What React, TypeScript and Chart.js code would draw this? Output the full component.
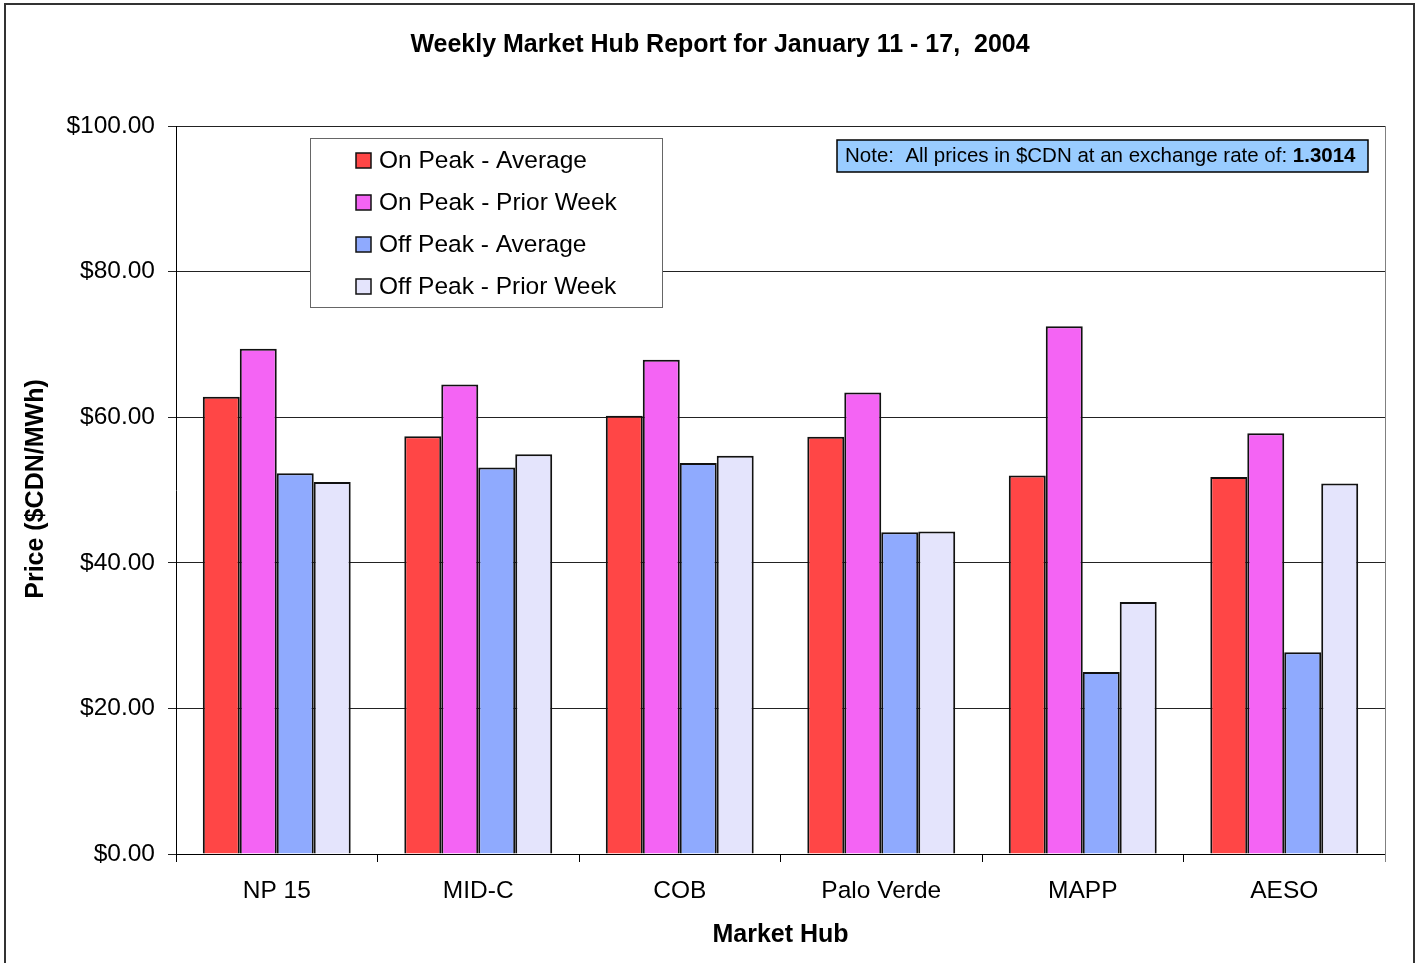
import React, { useEffect, useRef } from "react";
import { Chart, registerables } from "chart.js";

Chart.register(...registerables);

const categories = ["NP 15", "MID-C", "COB", "Palo Verde", "MAPP", "AESO"];
const seriesNames = [
  "On Peak - Average",
  "On Peak - Prior Week",
  "Off Peak - Average",
  "Off Peak - Prior Week",
];
const onPeakAverage = [62.8, 57.4, 60.2, 57.3, 52.0, 51.8];
const onPeakPriorWeek = [69.4, 64.5, 67.9, 63.4, 72.5, 57.8];
const offPeakAverage = [52.3, 53.1, 53.7, 44.2, 25.0, 27.7];
const offPeakPriorWeek = [51.1, 54.9, 54.7, 44.3, 34.6, 50.9];
const yTicks = [0, 20, 40, 60, 80, 100];

const titleText = "Weekly Market Hub Report for January 11 - 17,  2004";
const xTitleText = "Market Hub";
const yTitleText = "Price ($CDN/MWh)";
const noteText = "Note:  All prices in $CDN at an exchange rate of: ";
const noteRate = "1.3014";

const FONT = '"Liberation Sans", Arial, sans-serif';

export default function App() {
  const ref = useRef<HTMLCanvasElement>(null);

  useEffect(() => {
    document.body.style.margin = "0";
    document.body.style.overflow = "hidden";
    const canvas = ref.current!;
    const fills: any[] = ["#FF4646", "#F464F4", "#8FAAFE", "#E4E4FC"];
    const values = [onPeakAverage, onPeakPriorWeek, offPeakAverage, offPeakPriorWeek];

    const decor = {
      id: "decor",
      beforeDatasetsDraw(chart: any) {
        const { ctx, chartArea: a } = chart;
        ctx.save();
        ctx.strokeStyle = "#808080";
        ctx.lineWidth = 1;
        ctx.beginPath();
        ctx.moveTo(a.right + 0.5, a.top);
        ctx.lineTo(a.right + 0.5, a.bottom + 8);
        ctx.stroke();
        ctx.restore();
      },
      afterDraw(chart: any) {
        const { ctx, chartArea: a } = chart;
        ctx.save();
        ctx.strokeStyle = "#333";
        ctx.lineWidth = 2;
        ctx.strokeRect(5, 4, 1409, 980);

        ctx.fillStyle = "#000";
        ctx.textAlign = "center";
        ctx.textBaseline = "middle";
        ctx.font = `bold 25px ${FONT}`;
        ctx.fillText(titleText, 720, 45);
        ctx.fillText(xTitleText, (a.left + a.right) / 2, 935);
        ctx.save();
        ctx.translate(36, 489);
        ctx.rotate(-Math.PI / 2);
        ctx.fillText(yTitleText, 0, 0);
        ctx.restore();

        // legend
        ctx.fillStyle = "#fff";
        ctx.fillRect(310, 138, 352, 169);
        ctx.strokeStyle = "#666";
        ctx.lineWidth = 1;
        ctx.strokeRect(310.5, 138.5, 352, 169);
        ctx.font = `24.5px ${FONT}`;
        ctx.textAlign = "left";
        chart.data.datasets.forEach((ds: any, i: number) => {
          const cy = 160 + i * 42;
          ctx.fillStyle = ds.backgroundColor;
          ctx.fillRect(356, cy - 7, 15, 15);
          ctx.strokeStyle = "#111";
          ctx.lineWidth = 1.5;
          ctx.strokeRect(356, cy - 7, 15, 15);
          ctx.fillStyle = "#000";
          ctx.fillText(ds.label, 379, cy + 1);
        });

        // note box
        ctx.fillStyle = "#99CCFF";
        ctx.fillRect(837, 140, 531, 32);
        ctx.strokeStyle = "#000";
        ctx.lineWidth = 1.5;
        ctx.strokeRect(837, 140, 531, 32);
        ctx.fillStyle = "#000";
        ctx.font = `20.5px ${FONT}`;
        ctx.fillText(noteText, 845, 156);
        const w = ctx.measureText(noteText).width;
        ctx.font = `bold 20.5px ${FONT}`;
        ctx.fillText(noteRate, 845 + w, 156);
        ctx.restore();
      },
    };

    const chart = new Chart(canvas, {
      type: "bar",
      data: {
        labels: categories,
        datasets: values.map((v, i) => ({
          label: seriesNames[i],
          data: v,
          backgroundColor: fills[i],
          borderColor: "#111",
          borderWidth: 2,
          borderSkipped: "bottom",
          categoryPercentage: 0.734,
          barPercentage: 1.0,
        })),
      },
      options: {
        responsive: false,
        animation: false,
        events: [],
        layout: { padding: { left: 0, top: 126, right: 34, bottom: 0 } },
        plugins: {
          legend: { display: false },
          title: { display: false },
          tooltip: { enabled: false },
        },
        scales: {
          x: {
            offset: true,
            grid: {
              offset: true,
              drawOnChartArea: false,
              drawTicks: true,
              tickLength: 8,
              color: "#000",
            },
            border: { display: true, color: "#000", width: 1 },
            ticks: {
              color: "#000",
              font: { family: FONT, size: 24.5 },
              padding: 15,
              maxRotation: 0,
            },
            afterFit(scale: any) {
              scale.height = 109;
            },
          },
          y: {
            min: 0,
            max: 100,
            afterBuildTicks(scale: any) {
              scale.ticks = yTicks.map((v) => ({ value: v }));
            },
            grid: {
              color: "#222",
              drawTicks: true,
              tickLength: 8,
              lineWidth: 1,
            },
            border: { display: true, color: "#000", width: 1 },
            ticks: {
              color: "#000",
              font: { family: FONT, size: 24.5 },
              padding: 13,
              callback: (v: any) => "$" + Number(v).toFixed(2),
            },
            afterFit(scale: any) {
              scale.width = 176;
            },
          },
        },
      },
      plugins: [decor],
    });
    return () => chart.destroy();
  }, []);

  return <canvas ref={ref} width={1419} height={963} style={{ display: "block" }} />;
}
